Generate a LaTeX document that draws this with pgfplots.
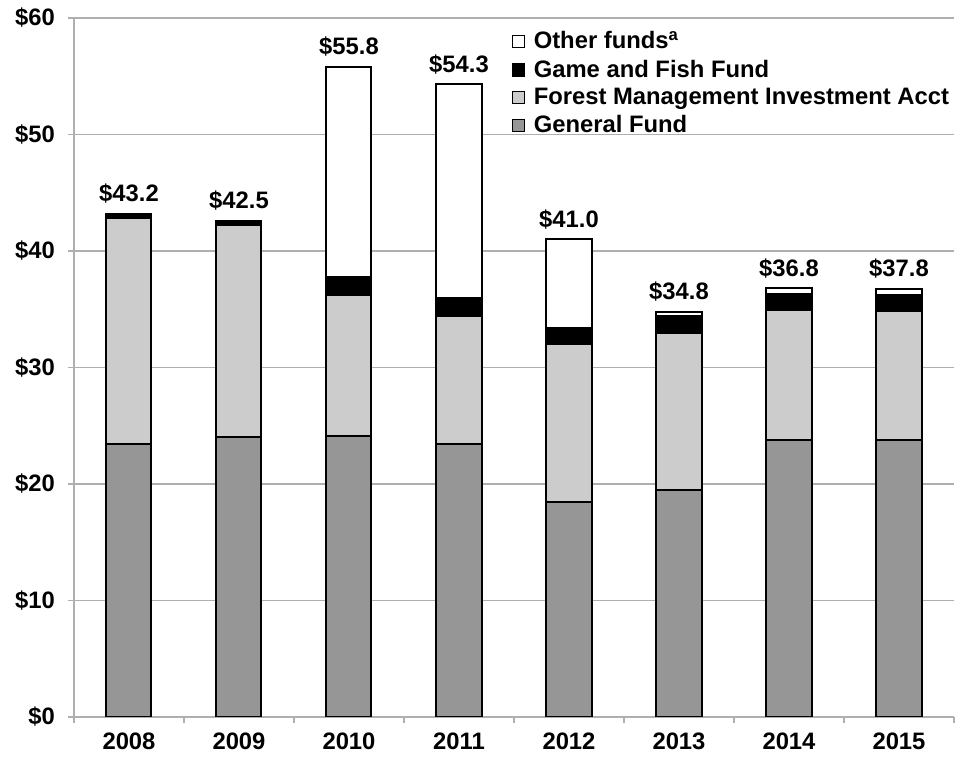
\documentclass[border=0pt]{standalone}
\usepackage{fontspec}
\setmainfont{Liberation Sans}
\usepackage{pgfplots}
\usepackage{pgfplotstable}
\pgfplotsset{compat=1.18}
\definecolor{genfund}{RGB}{150,150,150}
\definecolor{forest}{RGB}{204,204,204}
\definecolor{gridgray}{RGB}{175,175,175}

\pgfplotstableread{
x general forest game other total label
0 23.40 19.40 0.40 0.00 43.20 43.2
1 24.00 18.20 0.40 0.00 42.60 42.5
2 24.10 12.10 1.60 18.00 55.80 55.8
3 23.40 11.00 1.60 18.30 54.30 54.3
4 18.45 13.55 1.35 7.65 41.00 41.0
5 19.50 13.50 1.45 0.30 34.75 34.8
6 23.80 11.10 1.40 0.50 36.80 36.8
7 23.80 11.05 1.40 0.50 36.75 37.8
}\datatable

\newcommand{\lblfont}{\bfseries\fontsize{11.9}{13.5}\selectfont}

\pgfplotsset{common/.style={
  scale only axis,
  width=440pt, height=349.5pt,
  xmin=-0.5, xmax=7.5,
  ymin=0, ymax=60,
}}

\begin{document}
\begin{tikzpicture}
\begin{axis}[
  common,
  ybar stacked,
  bar width=22.5pt,
  ytick={0,10,...,60},
  yticklabel={\$\pgfmathprintnumber{\tick}},
  xtick={-0.5,0.5,...,7.5},
  x tick label as interval,
  xticklabels={2008,2009,2010,2011,2012,2013,2014,2015},
  /pgf/number format/assume math mode=true,
  ticklabel style={font=\lblfont},
  yticklabel style={xshift=-3pt},
  xticklabel style={yshift=-1.5pt},
  axis x line*=bottom,
  axis y line*=left,
  axis line style={gridgray, line width=0.8pt},
  tick align=outside,
  major tick length=3pt,
  tick style={gridgray, line width=0.8pt},
  ymajorgrids,
  grid style={gridgray, line width=0.8pt},
  every axis plot/.append style={draw=black, line width=1pt},
  legend style={at={(rel axis cs:0.490,0.993)}, anchor=north west, draw=none, fill=none,
    font=\lblfont, row sep=0pt,
    /tikz/every odd column/.append style={column sep=2.5pt}},
  legend cell align=left,
  reverse legend,
  legend image code/.code={\draw[#1, line width=0.6pt] (0pt,-3pt) rectangle (6pt,3pt);},
]
\addplot[fill=genfund] table[x=x,y=general] {\datatable};
\addlegendentry{General Fund}
\addplot[fill=forest] table[x=x,y=forest] {\datatable};
\addlegendentry{Forest Management Investment Acct}
\addplot[fill=black] table[x=x,y=game] {\datatable};
\addlegendentry{Game and Fish Fund}
\addplot[fill=white] table[x=x,y=other] {\datatable};
\addlegendentry{Other funds\textsuperscript{a}}
\coordinate (sw) at (rel axis cs:0,0);
\coordinate (ne) at (rel axis cs:1,1);
\end{axis}
\begin{axis}[
  common,
  hide axis,
]
\addplot[draw=none, mark=none, point meta=explicit symbolic,
  nodes near coords={\$\pgfplotspointmeta},
  every node near coord/.append style={font=\lblfont, anchor=south, inner sep=0pt, yshift=5pt, text=black}]
  table[x=x,y=total,meta=label] {\datatable};
\end{axis}
\pgfresetboundingbox
\path ([shift={(-37pt,-20pt)}]sw) rectangle ([shift={(3.5pt,9pt)}]ne);
\end{tikzpicture}
\end{document}
